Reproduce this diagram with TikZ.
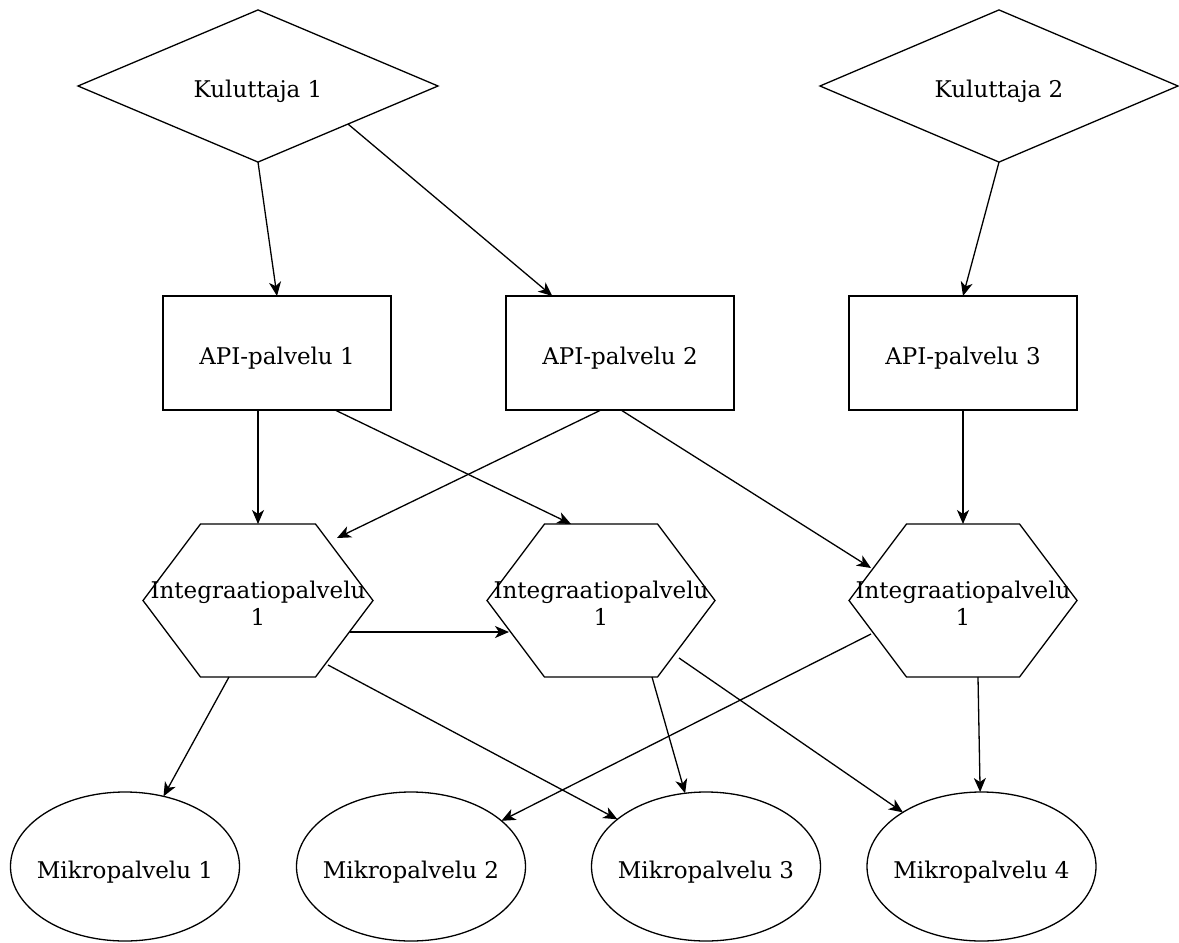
\documentclass[tikz,border=0pt]{standalone}
\usepackage{fontspec}
\setmainfont{DejaVu Serif}
\usetikzlibrary{shapes.geometric,arrows.meta,calc}
\tikzset{
  shapeline/.style={draw=black, line width=1.3pt},
  txt/.style={font=\fontsize{23pt}{27pt}\selectfont, text=black, inner sep=0pt, outer sep=0pt},
  oneline/.style={txt, text height=23.5pt, text depth=0pt},
  consumer/.style={oneline, shapeline, shape=diamond, minimum width=360pt, minimum height=152pt},
  apibox/.style={oneline, shapeline, rectangle, minimum width=228pt, minimum height=114pt},
  hexbox/.style={txt, rectangle, draw=none, minimum width=228pt, minimum height=153pt, align=center},
  microbox/.style={oneline, shapeline, ellipse, inner xsep=-12pt, minimum width=229pt, minimum height=149pt},
  arr/.style={draw=black, line width=1.3pt, -{Stealth[length=14pt, width=12pt, inset=4pt]}}
}
\newcommand\hexof[1]{\draw[shapeline, line join=miter] ([xshift=57.5pt]#1.north west) -- ([xshift=-57.5pt]#1.north east) -- (#1.east) -- ([xshift=-57.5pt]#1.south east) -- ([xshift=57.5pt]#1.south west) -- (#1.west) -- cycle;}
\newcommand\hexlabel{\rule{0pt}{22pt}Integraatiopalvelu\\1}
\begin{document}
\begin{tikzpicture}[x=1pt,y=-1pt]
\fill[white] (0,0) rectangle (1179,943);
\useasboundingbox (0,0) rectangle (1179,943);

\node[consumer] (k1) at (258,86) {Kuluttaja 1};
\node[consumer, minimum width=358pt] (k2) at (999,86) {Kuluttaja 2};

\node[apibox] (api1) at (277,353) {API-palvelu 1};
\node[apibox] (api2) at (620,353) {API-palvelu 2};
\node[apibox] (api3) at (963,353) {API-palvelu 3};

\node[hexbox, minimum width=230pt] (h1) at (258,600.5) {\hexlabel};
\node[hexbox] (h2) at (601,600.5) {\hexlabel};
\node[hexbox] (h3) at (963,600.5) {\hexlabel};
\hexof{h1}
\hexof{h2}
\hexof{h3}

\node[microbox] (m1) at (125,866.5) {Mikropalvelu 1};
\node[microbox] (m2) at (411,866.5) {Mikropalvelu 2};
\node[microbox] (m3) at (706,866.5) {Mikropalvelu 3};
\node[microbox] (m4) at (981.5,866.5) {Mikropalvelu 4};

\draw[arr] (k1.south) -- (api1.north);
\draw[arr] ($(k1.south)!0.5!(k1.east)$) -- (api2);
\draw[arr] (k2.south) -- (api3.north);

\draw[arr] (h1.north |- api1.south) -- (h1.north);
\draw[arr] ([xshift=58pt]api1.south) -- ([xshift=-30pt]h2.north);
\draw[arr] ([xshift=-19pt]api2.south) -- ([xshift=79pt,yshift=62.5pt]h1.center);
\draw[arr] ([xshift=1pt]api2.south) -- ([xshift=-92pt,yshift=32.5pt]h3.center);
\draw[arr] (api3.south) -- (h3.north);

\draw[arr] ([xshift=92pt,yshift=-31.5pt]h1.center) -- ([xshift=-92pt,yshift=-31.5pt]h2.center);

\draw[arr] ([xshift=-29pt]h1.south) -- (m1);
\draw[arr] ([xshift=70pt,yshift=-64.5pt]h1.center) -- (m3);
\draw[arr] ([xshift=-92pt,yshift=-33.5pt]h3.center) -- (m2);
\draw[arr] ([xshift=51pt]h2.south) -- (m3);
\draw[arr] ([xshift=78pt,yshift=-57.5pt]h2.center) -- (m4);
\draw[arr] ([xshift=15pt]h3.south) -- (m4);
\end{tikzpicture}
\end{document}
